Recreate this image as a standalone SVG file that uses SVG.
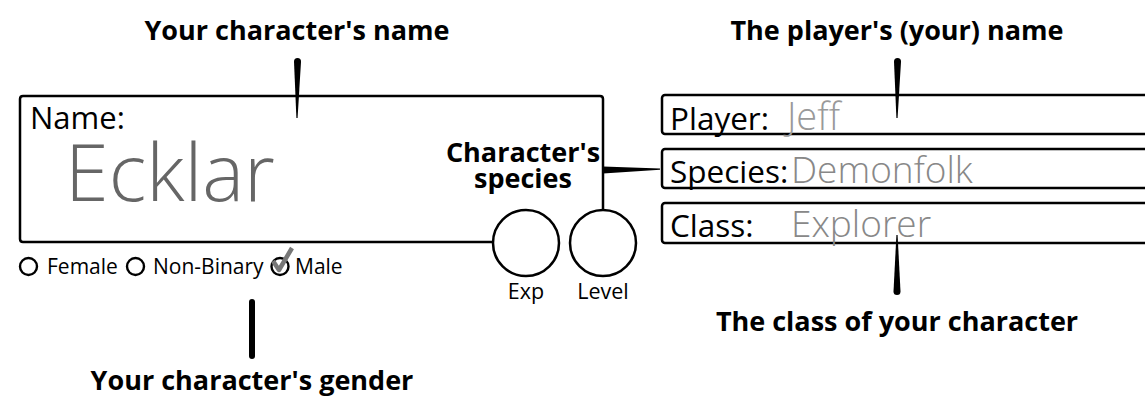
<svg xmlns="http://www.w3.org/2000/svg" width="1145" height="397" viewBox="0 0 1145 397">
<style>
.box{fill:none;stroke:#000;stroke-width:2.5}
.lbl{font-family:"Open Sans","Liberation Sans",sans-serif;fill:#000}
.head{font-family:"Open Sans","Liberation Sans",sans-serif;font-weight:700;font-size:27px;fill:#000}
.val{font-family:"Open Sans","Liberation Sans",sans-serif;font-weight:300;fill:#888}
.ptr{fill:#000;stroke:none}
.radio{fill:none;stroke:#000;stroke-width:2.4}
</style>
<rect width="1145" height="397" fill="#fff"/>
<g id="name-box">
  <path class="box" d="M493,242 L23,242 Q20,242 20,239 L20,99 Q20,96 23,96 L600,96 Q603,96 603,99 L603,210"/>
  <text class="lbl" x="30" y="129" font-size="31">Name:</text>
  <text class="val" x="65" y="201" font-size="79" style="fill:#666">Ecklar</text>
</g>
<g id="exp">
  <circle class="box" cx="526" cy="243" r="33"/>
  <text class="lbl" x="526" y="299" font-size="21.5" text-anchor="middle">Exp</text>
</g>
<g id="level">
  <circle class="box" cx="603" cy="243" r="33"/>
  <text class="lbl" x="603" y="299" font-size="21.5" text-anchor="middle">Level</text>
</g>
<g id="gender">
  <circle class="radio" cx="28.5" cy="266.5" r="8.5"/>
  <text class="lbl" x="47" y="274" font-size="21">Female</text>
  <circle class="radio" cx="135.5" cy="266.5" r="8.5"/>
  <text class="lbl" x="153" y="274" font-size="21">Non-Binary</text>
  <circle class="radio" cx="280" cy="266.5" r="8.5"/>
  <path d="M273,261 L279,270 L292,248" fill="none" stroke="#777" stroke-width="4.5" stroke-linejoin="round"/>
  <text class="lbl" x="295" y="274" font-size="21">Male</text>
</g>
<g id="player-box">
  <rect class="box" x="662" y="95" width="600" height="39" rx="3"/>
  <text class="lbl" x="670" y="130" font-size="31.5">Player:</text>
  <text class="val" x="787" y="130" font-size="38" style="fill:#999">Jeff</text>
</g>
<g id="species-box">
  <rect class="box" x="662" y="149" width="600" height="39" rx="3"/>
  <text class="lbl" x="670" y="183" font-size="31.5">Species:</text>
  <text class="val" x="791" y="183" font-size="37">Demonfolk</text>
</g>
<g id="class-box">
  <rect class="box" x="662" y="203" width="600" height="40" rx="3"/>
  <text class="lbl" x="670" y="237" font-size="31.5">Class:</text>
  <text class="val" x="791" y="237" font-size="37">Explorer</text>
</g>
<g id="annotations">
  <text class="head" x="297" y="40" text-anchor="middle">Your character's name</text>
  <text class="head" x="897" y="40" text-anchor="middle">The player's (your) name</text>
  <text class="head" x="523" y="162" text-anchor="middle" font-size="26">Character's</text>
  <text class="head" x="523" y="188" text-anchor="middle" font-size="26">species</text>
  <text class="head" x="897" y="331" text-anchor="middle">The class of your character</text>
  <text class="head" x="252" y="390" text-anchor="middle">Your character's gender</text>
</g>
<g id="connectors">
  <path class="ptr" d="M294,61.5 A3.5,3.5 0 0 1 301,61.5 L297.6,118 L296.4,118 Z"/>
  <path class="ptr" d="M894,61.5 A3.5,3.5 0 0 1 901,61.5 L897.6,118 L896.4,118 Z"/>
  <path class="ptr" d="M896.4,235 L897.6,235 L900.5,291.5 A3.5,3.5 0 0 1 893.5,291.5 Z"/>
  <path class="ptr" d="M603,166.5 L660,168.6 L660,169.8 L603,173.5 Z"/>
  <line x1="252" y1="302" x2="252" y2="356" stroke="#000" stroke-width="6" stroke-linecap="round"/>
</g>
</svg>
